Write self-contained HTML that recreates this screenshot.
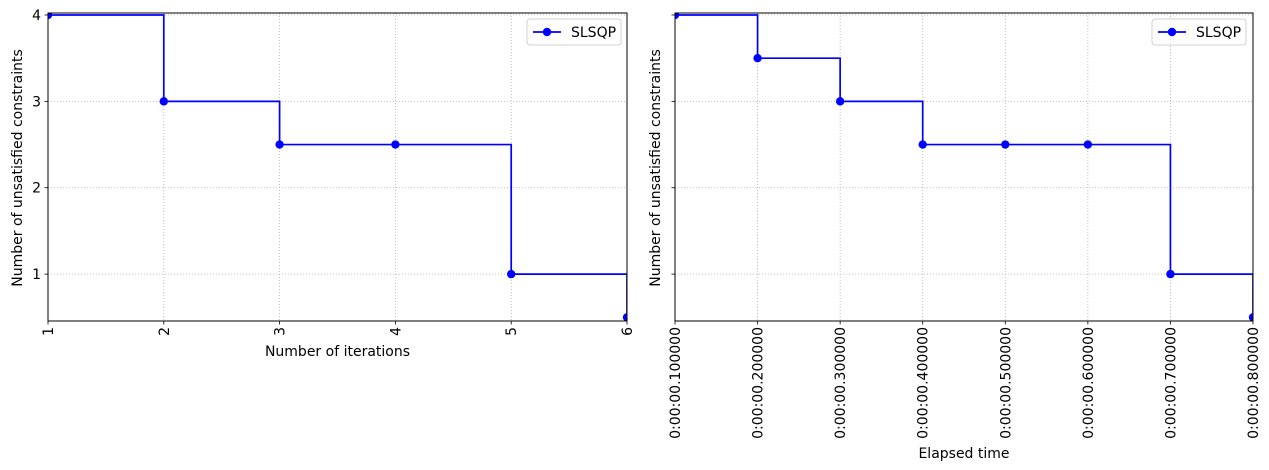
<!DOCTYPE html>
<html><head><meta charset="utf-8"><style>
body{margin:0;background:#fff;}
svg{display:block;font-family:"DejaVu Sans","Liberation Sans",sans-serif;}
</style></head><body>
<svg id="chart" width="1269" height="470" xmlns="http://www.w3.org/2000/svg"></svg>
<script>
const iterX = [1, 2, 3, 4, 5, 6];
const iterY = [4, 3, 2.5, 2.5, 1, 0.5];
const timeX = [0.1, 0.2, 0.3, 0.4, 0.5, 0.6, 0.7, 0.8];
const timeY = [4, 3.5, 3, 2.5, 2.5, 2.5, 1, 0.5];
const iterTicks = [1, 2, 3, 4, 5, 6];
const timeTicks = [0.1, 0.2, 0.3, 0.4, 0.5, 0.6, 0.7, 0.8];
const timeTickLabels = ["0:00:00.100000","0:00:00.200000","0:00:00.300000","0:00:00.400000","0:00:00.500000","0:00:00.600000","0:00:00.700000","0:00:00.800000"];
const yTicks = [1, 2, 3, 4];

const NS = "http://www.w3.org/2000/svg";
const svg = document.getElementById('chart');
const FS = 14;
function mk(tag, attrs, parent){
  const e = document.createElementNS(NS, tag);
  for (const k in attrs) e.setAttribute(k, attrs[k]);
  (parent||svg).appendChild(e); return e;
}
function panel(name, x0, x1, y0, y1, xmin, xmax, ymin, ymax, xs, ys, xt, xtl, showY, xlabel, xlabelY, legX){
  const g = mk('g', {});
  
  
  const sx = v => x0 + (v - xmin) / (xmax - xmin) * (x1 - x0);
  const sy = v => y1 - (v - ymin) / (ymax - ymin) * (y1 - y0);
  xt.forEach(v => {
    const l = mk('line', {x1:sx(v), x2:sx(v), y1:y0, y2:y1, stroke:'#b0b0b0', 'stroke-width':0.8, 'stroke-dasharray':'1,2'}, g);
    
    
  });
  yTicks.forEach(v => {
    const l = mk('line', {x1:x0, x2:x1, y1:sy(v), y2:sy(v), stroke:'#b0b0b0', 'stroke-width':0.8, 'stroke-dasharray':'1,2'}, g);
    
    
  });
  let d = 'M' + sx(xs[0]) + ' ' + sy(ys[0]);
  for (let i = 1; i < xs.length; i++) d += ' H' + sx(xs[i]) + ' V' + sy(ys[i]);
  const clip = mk('clipPath', {id:'clip-' + name}, g);
  mk('rect', {x:x0, y:y0, width:x1 - x0, height:y1 - y0}, clip);
  const sg = mk('g', {'clip-path':'url(#clip-' + name + ')'}, g);
  
  
  mk('path', {d:d, fill:'none', stroke:'#0000ff', 'stroke-width':1.7}, sg);
  xs.forEach((v, i) => {
    const c = mk('circle', {cx:sx(v), cy:sy(ys[i]), r:4.2, fill:'#0000ff'}, sg);
    
    
  });
  mk('rect', {x:x0, y:y0, width:x1 - x0, height:y1 - y0, fill:'none', stroke:'#000', 'stroke-width':1}, g);
  xt.forEach((v, i) => {
    mk('line', {x1:sx(v), x2:sx(v), y1:y1, y2:y1 + 3.5, stroke:'#000', 'stroke-width':0.8}, g);
    const t = mk('text', {x:0, y:0, 'font-size':FS, 'text-anchor':'end', transform:'translate(' + (sx(v) + 5) + ',' + (y1 + 6) + ') rotate(-90)'}, g);
    t.textContent = xtl[i];
    
    
  });
  yTicks.forEach(v => {
    mk('line', {x1:x0 - 3.5, x2:x0, y1:sy(v), y2:sy(v), stroke:'#000', 'stroke-width':0.8}, g);
    if (showY) {
      const t = mk('text', {x:x0 - 7, y:sy(v) + 5, 'font-size':FS, 'text-anchor':'end'}, g);
      t.textContent = v;
      
      
    }
  });
  const xl = mk('text', {x:(x0 + x1) / 2, y:xlabelY, 'font-size':FS, 'text-anchor':'middle'}, g);
  xl.textContent = xlabel;
  
  
  const yx = showY ? 22 : x0 - 15;
  const yl = mk('text', {x:0, y:0, 'font-size':FS, 'text-anchor':'middle', transform:'translate(' + yx + ',' + ((y0 + y1) / 2 + 1) + ') rotate(-90)'}, g);
  yl.textContent = 'Number of unsatisfied constraints';
  
  
  const lg = mk('g', {}, g);
  
  
  mk('rect', {x:legX, y:19, width:94, height:26, rx:3, fill:'#fff', 'fill-opacity':0.8, stroke:'#d0d0d0', 'stroke-width':1}, lg);
  mk('line', {x1:legX + 6, x2:legX + 34, y1:32, y2:32, stroke:'#0000ff', 'stroke-width':1.7}, lg);
  mk('circle', {cx:legX + 20, cy:32, r:4.2, fill:'#0000ff'}, lg);
  const lt = mk('text', {x:legX + 44, y:37, 'font-size':FS}, lg);
  lt.textContent = 'SLSQP';
  
  
}
panel('iterations-chart', 48, 627, 13, 321, 1, 6, 0.457, 4.023, iterX, iterY, iterTicks, iterTicks.map(String), true, 'Number of iterations', 356, 527);
panel('elapsed-time-chart', 675, 1253, 13, 321, 0.1, 0.8, 0.457, 4.023, timeX, timeY, timeTicks, timeTickLabels, false, 'Elapsed time', 458, 1152);
</script>
</body></html>
